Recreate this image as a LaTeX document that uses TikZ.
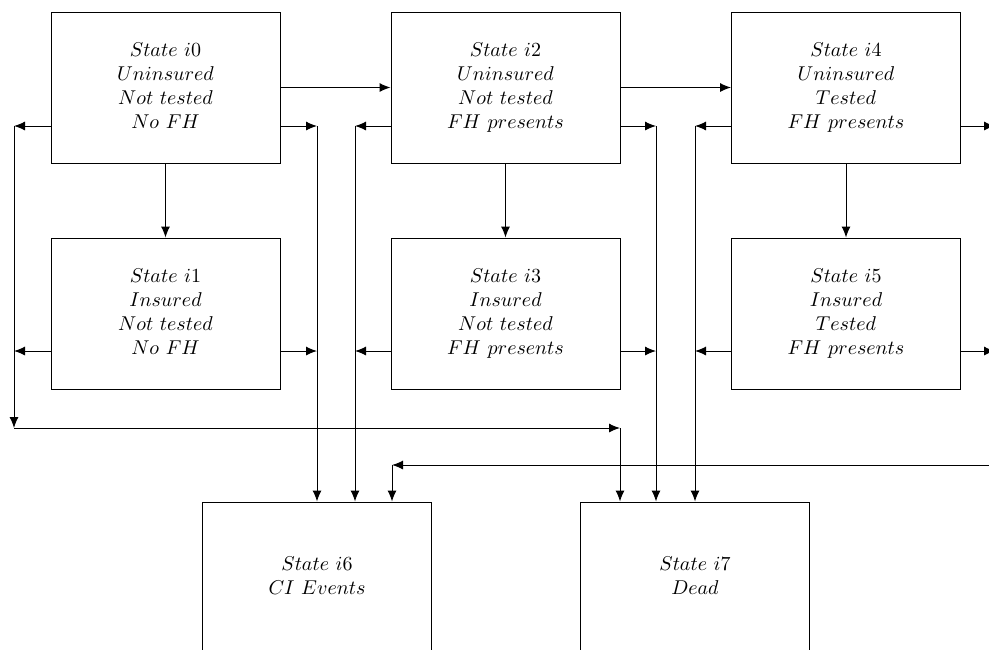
\documentclass[tikz,border=0pt]{standalone}
\usetikzlibrary{arrows.meta}
\begin{document}
\begin{tikzpicture}[x=0.5pt,y=-0.5pt,
  statebox/.style={draw,line width=0.5pt,minimum width=114.5pt,minimum height=75.5pt,inner sep=0pt,align=center,font=\normalsize},
  arr/.style={line width=0.5pt,-{Latex[length=5.5pt,width=4.5pt]}}]
\useasboundingbox (0,0) rectangle (989,649);
\clip (0,0) rectangle (989,649);
\node[statebox] (i0) at (165.5,87.5) {$\begin{array}{c}State\ i0\\ Uninsured\\ Not\ tested\\ No\ FH\end{array}$};
\node[statebox] (i2) at (505.5,87.5) {$\begin{array}{c}State\ i2\\ Uninsured\\ Not\ tested\\ FH\ presents\end{array}$};
\node[statebox] (i4) at (846,87.5) {$\begin{array}{c}State\ i4\\ Uninsured\\ Tested\\ FH\ presents\end{array}$};
\node[statebox] (i1) at (165.5,313.5) {$\begin{array}{c}State\ i1\\ Insured\\ Not\ tested\\ No\ FH\end{array}$};
\node[statebox] (i3) at (505.5,313.5) {$\begin{array}{c}State\ i3\\ Insured\\ Not\ tested\\ FH\ presents\end{array}$};
\node[statebox] (i5) at (846,313.5) {$\begin{array}{c}State\ i5\\ Insured\\ Tested\\ FH\ presents\end{array}$};
\node[statebox] (i6) at (317,577.5) {$\begin{array}{c}State\ i6\\ CI\ Events\end{array}$};
\node[statebox] (i7) at (695,577.5) {$\begin{array}{c}State\ i7\\ Dead\end{array}$};
% junction coordinates
\coordinate (jL0) at (14,126);
\coordinate (jL1) at (14,351);
\coordinate (jLb) at (14,428);
\coordinate (jD) at (620,428);
\coordinate (jA0) at (317,126);
\coordinate (jA1) at (317,351);
\coordinate (jB0) at (355,126);
\coordinate (jB1) at (355,351);
\coordinate (jC0) at (656,126);
\coordinate (jC1) at (656,351);
\coordinate (jE0) at (695,126);
\coordinate (jE1) at (695,351);
\coordinate (jR0) at (995,126);
\coordinate (jR1) at (995,351);
\coordinate (jF) at (392,465);
\coordinate (jFr) at (1000,465);
% horizontal transitions
\draw[arr] (i0.east) -- (i2.west);
\draw[arr] (i2.east) -- (i4.west);
% vertical transitions
\draw[arr] (i0) -- (i1);
\draw[arr] (i2) -- (i3);
\draw[arr] (i4) -- (i5);
% left side of column 1
\draw[arr] (jL0 -| i0.west) -- (jL0);
\draw[arr] (jL1 -| i1.west) -- (jL1);
\draw[arr] (jL0) -- (jLb);
\draw[arr] (jLb) -- (jD);
\draw[arr] (jD) -- (jD |- i7.north);
% right side of column 1
\draw[arr] (jA0 -| i0.east) -- (jA0);
\draw[arr] (jA1 -| i1.east) -- (jA1);
\draw[arr] (jA0) -- (jA0 |- i6.north);
% left side of column 2
\draw[arr] (jB0 -| i2.west) -- (jB0);
\draw[arr] (jB1 -| i3.west) -- (jB1);
\draw[arr] (jB0) -- (jB0 |- i6.north);
% right side of column 2
\draw[arr] (jC0 -| i2.east) -- (jC0);
\draw[arr] (jC1 -| i3.east) -- (jC1);
\draw[arr] (jC0) -- (jC0 |- i7.north);
% left side of column 3
\draw[arr] (jE0 -| i4.west) -- (jE0);
\draw[arr] (jE1 -| i5.west) -- (jE1);
\draw[arr] (jE0) -- (jE0 |- i7.north);
% right side of column 3
\draw[arr] (jR0 -| i4.east) -- (jR0);
\draw[arr] (jR1 -| i5.east) -- (jR1);
% return line into i6
\draw[arr] (jFr) -- (jF);
\draw[arr] (jF) -- (jF |- i6.north);
\end{tikzpicture}
\end{document}
